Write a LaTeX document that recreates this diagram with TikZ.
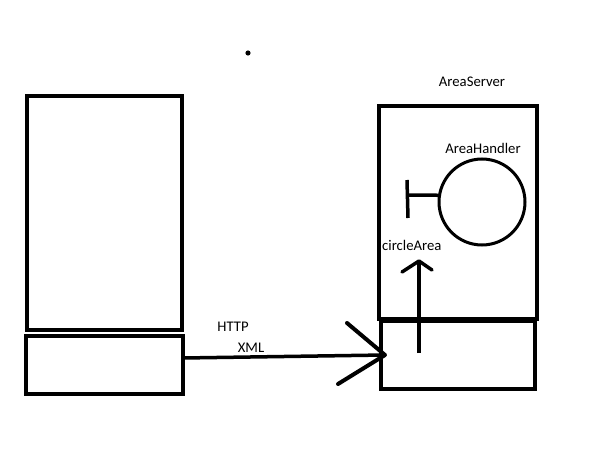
\documentclass[tikz,border=0pt]{standalone}
\usepackage{fontspec}
\setmainfont{Carlito}
\begin{document}
\begin{tikzpicture}[x=1pt,y=-1pt,
  box/.style={draw=black,line width=4pt,inner sep=0pt,outer sep=0pt,anchor=north west},
  thick line/.style={line width=3.5pt},
  lbl/.style={font=\fontsize{14.7}{17}\selectfont,inner sep=0pt}]
\useasboundingbox[fill=white] (0,0) rectangle (614,460);
% dot
\fill (248,53) circle (2.6);
% left boxes
\node[box,minimum width=155pt,minimum height=234pt] (lt) at (27,96) {};
\node[box,minimum width=157pt,minimum height=58pt] (lb) at (26,336) {};
% right boxes
\node[box,minimum width=158pt,minimum height=213pt] (rt) at (379,106) {};
\node[box,minimum width=154pt,minimum height=68pt] (rb) at (381,321) {};
% circle
\node[draw,line width=3pt,circle,minimum size=86pt,inner sep=0pt,outer sep=0pt] (c) at (482,202) {};
\coordinate (h1) at (408,195);
\coordinate (bt) at (407,180);
\coordinate (bb) at (408,218);
\draw[thick line] (c.171) -- (h1);
\draw[thick line] (bt) -- (bb);
% labels
\node[lbl] (as) at (472,82) {AreaServer};
\node[lbl] (ah) at (483,148) {AreaHandler};
\node[lbl,anchor=west] (ca) at (382,245) {circleArea};
\node[lbl] (http) at (233,327) {HTTP};
\node[lbl] (xml) at (251,348) {XML};
% up arrow
\coordinate (us) at (419,353);
\coordinate (ut) at (419,261);
\coordinate (ul) at (402,272);
\coordinate (ur) at (432,270);
\draw[thick line] (us) -- (ut);
\draw[thick line,line cap=round,line join=round] (ul) -- (ut) -- (ur);
% main arrow
\coordinate (ms) at (183,358);
\coordinate (mt) at (385,355);
\coordinate (m1) at (347,323);
\coordinate (m2) at (338,384);
\draw[thick line] (ms) -- (mt);
\draw[line width=4pt,line cap=round,line join=round] (m1) -- (mt) -- (m2);
\end{tikzpicture}
\end{document}
